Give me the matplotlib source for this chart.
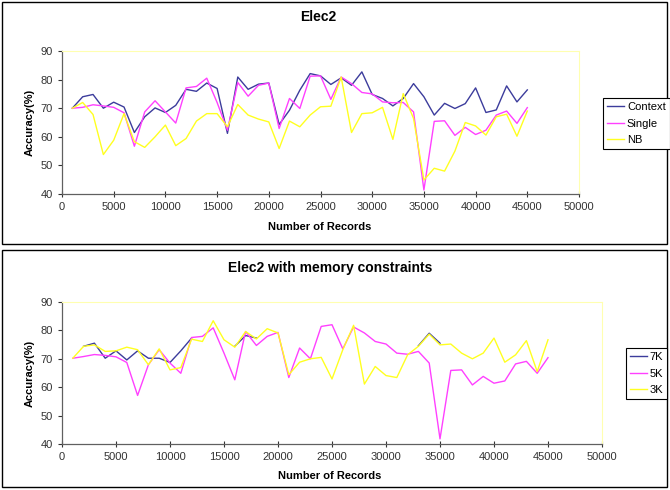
import matplotlib
matplotlib.use("Agg")
import matplotlib.pyplot as plt
from matplotlib.patches import Rectangle

plt.rcParams['font.family'] = ['Liberation Sans', 'DejaVu Sans']

records = list(range(1000, 46000, 1000))

# top chart: Elec2
context = [70.0, 74.0, 74.8, 70.0, 72.1, 70.4, 61.5, 67.0, 70.1, 68.5,
           71.0, 76.6, 75.9, 78.8, 76.9, 61.2, 80.9, 76.6, 78.4, 78.8,
           64.3, 69.3, 76.3, 82.1, 81.3, 78.3, 80.6, 78.0, 82.7, 74.8,
           73.4, 70.8, 73.4, 78.6, 74.0, 67.6, 71.7, 69.9, 71.6, 77.1,
           68.5, 69.4, 77.8, 72.2, 76.4]
single = [70.0, 70.3, 71.2, 70.8, 70.3, 68.4, 56.7, 68.7, 72.6, 68.7,
          64.8, 77.1, 77.6, 80.5, 72.0, 62.3, 79.0, 74.2, 78.0, 78.8,
          62.9, 73.4, 69.9, 81.2, 81.3, 73.1, 80.9, 78.6, 75.5, 75.0,
          72.2, 71.9, 72.0, 68.7, 41.4, 65.4, 65.6, 60.5, 63.3, 60.8,
          62.3, 67.6, 69.0, 64.7, 70.2]
nb = [70.0, 72.0, 67.8, 53.8, 58.8, 68.1, 58.3, 56.3, 60.0, 64.1,
      56.9, 59.4, 65.5, 68.1, 68.1, 63.5, 71.3, 67.6, 66.2, 65.2,
      55.9, 65.5, 63.5, 67.6, 70.5, 70.7, 80.9, 61.5, 68.1, 68.4,
      70.3, 59.1, 75.1, 66.4, 44.9, 49.0, 48.0, 55.0, 65.0, 63.8,
      60.6, 67.0, 67.9, 60.2, 69.0]

# bottom chart: memory constraints (7K only where it shows above the others)
mem7k = [None, 74.4, 75.5, 70.2, 72.8, 69.6, 72.8, 70.2, 70.2, 68.7,
         72.8, 77.3, None, None, None, 74.4, 78.2, 77.3, None, None,
         None, None, None, None, None, None, None, None, None, None,
         None, None, 74.6, 79.0, 75.5, None, None, None, None, None,
         None, None, None, None, None]
mem5k = [70.2, 70.8, 71.5, 71.2, 70.7, 68.7, 57.1, 67.9, 73.2, 68.5,
         64.9, 77.5, 77.9, 80.9, 72.0, 62.6, 79.6, 74.7, 77.9, 79.3,
         63.4, 73.8, 70.0, 81.4, 82.0, 73.5, 81.2, 79.1, 76.1, 75.2,
         72.0, 71.6, 72.6, 68.5, 41.8, 65.9, 66.1, 60.8, 63.8, 61.4,
         62.2, 68.2, 69.1, 64.9, 70.4]
mem3k = [70.2, 74.4, 74.9, 72.6, 72.8, 74.1, 73.2, 67.9, 73.5, 66.1,
         66.9, 76.9, 76.1, 83.4, 76.7, 74.1, 79.6, 77.0, 80.6, 79.1,
         64.4, 68.8, 70.0, 70.5, 62.9, 73.2, 81.8, 61.1, 67.3, 64.1,
         63.4, 71.4, 74.4, 78.7, 74.9, 75.2, 72.0, 70.0, 72.0, 77.3,
         68.8, 71.4, 76.4, 65.5, 76.7]

W, H = 670, 490
fig = plt.figure(figsize=(W / 100, H / 100), dpi=100)


def px(x0, y0, x1, y1):
    return [x0 / W, 1 - y1 / H, (x1 - x0) / W, (y1 - y0) / H]


# chart area borders
for (x0, y0, x1, y1) in [(2, 2, 667, 244), (2, 250, 667, 487)]:
    fig.patches.append(Rectangle((x0 / W, 1 - y1 / H), (x1 - x0) / W, (y1 - y0) / H,
                                 transform=fig.transFigure, fill=False,
                                 edgecolor='black', linewidth=1.0))


def panel(rect, series, labels, title, title_xy, xlabel_xy, legend_xy):
    ax = fig.add_axes(px(*rect))
    colors = ['#3c3c9c', '#ff40ff', '#ffff20']
    for vals, lab, c in zip(series, labels, colors):
        y = [float('nan') if v is None else v for v in vals]
        ax.plot(records, y, color=c, linewidth=1.0, label=lab)
    ax.set_xlim(0, 50000)
    ax.set_ylim(40, 90)
    ax.set_xticks(range(0, 50001, 5000))
    ax.set_yticks(range(40, 91, 10))
    ax.tick_params(labelsize=8, colors='#333333', length=3, width=0.8)
    ax.tick_params(axis='x', direction='inout', length=5)
    for s in ['top', 'right']:
        ax.spines[s].set_color('#ffffb0')
        ax.spines[s].set_linewidth(0.8)
    for s in ['left', 'bottom']:
        ax.spines[s].set_color('#606060')
        ax.spines[s].set_linewidth(0.9)
    ax.set_ylabel('Accuracy(%)', fontsize=8, fontweight='bold', labelpad=4)
    fig.text(title_xy[0] / W, 1 - title_xy[1] / H, title, ha='center', va='center',
             fontsize=10, fontweight='bold')
    fig.text(xlabel_xy[0] / W, 1 - xlabel_xy[1] / H, 'Number of Records', ha='center',
             va='center', fontsize=8, fontweight='bold')
    leg = fig.legend(handles=ax.get_lines(), loc='upper left',
                     bbox_to_anchor=(legend_xy[0] / W, 1 - legend_xy[1] / H),
                     fontsize=8, frameon=True, fancybox=False, edgecolor='black',
                     framealpha=1, handlelength=1.5, handletextpad=0.3,
                     borderpad=0.35, labelspacing=0.6, borderaxespad=0)
    leg.get_frame().set_linewidth(0.8)
    return ax


panel((62, 51, 579, 194), [context, single, nb], ['Context', 'Single', 'NB'],
      'Elec2', (318, 17), (320, 227), (603, 98))
panel((62, 302, 602, 444), [mem7k, mem5k, mem3k], ['7K', '5K', '3K'],
      'Elec2 with memory constraints', (330, 268), (330, 476), (626, 348))

fig.savefig('out.png', dpi=100)
